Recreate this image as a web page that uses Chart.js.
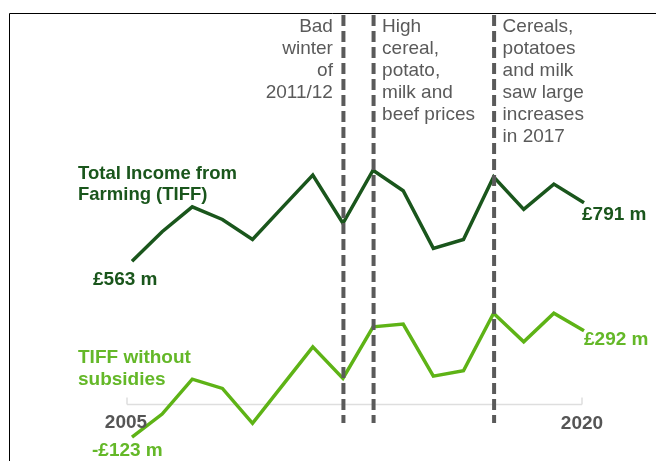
<!DOCTYPE html>
<html>
<head>
<meta charset="utf-8">
<script src="https://cdn.jsdelivr.net/npm/chart.js@4"></script>
<style>
  html, body { margin: 0; padding: 0; background: #fff; }
  #wrap { position: relative; width: 656px; height: 461px; }
</style>
</head>
<body>
<div id="wrap"><canvas id="chart"></canvas></div>
<script>
// years shown on the x axis
const years = ['2005', '2006', '2007', '2008', '2009', '2010', '2011', '2012',
               '2013', '2014', '2015', '2016', '2017', '2018', '2019', '2020'];

// £ million
const tiff = [563, 678, 775, 726, 648, 774, 899, 711, 918, 838, 613, 648, 892, 765, 864, 791];
const tiffNoSubsidies = [-123, -33, 103, 67, -69, 80, 229, 106, 307, 318, 115, 136, 360, 249, 360, 292];

// events marked with dashed lines
const eventYears = ['2012', '2013', '2017'];
const eventNotes = [
    ['Bad', 'winter', 'of', '2011/12'],
    ['High', 'cereal,', 'potato,', 'milk and', 'beef prices'],
    ['Cereals,', 'potatoes', 'and milk', 'saw large', 'increases', 'in 2017']
];

const axisLabels = ['2005', '2020'];

const darkGreen = '#1a561c';
const lightGreen = '#5eb316';
const grey = '#5a5a5a';

const decorations = {
    id: 'decorations',
    beforeDraw(chart) {
        const c = chart.ctx;
        c.save();
        // frame
        c.strokeStyle = '#000';
        c.lineWidth = 1;
        c.beginPath();
        c.moveTo(9.5, 461);
        c.lineTo(9.5, 13.5);
        c.lineTo(656, 13.5);
        c.stroke();

        // zero axis
        const x = chart.scales.x;
        const y = chart.scales.y;
        const x0 = x.getPixelForValue(0) - 5;
        const x1 = x.getPixelForValue(years.length - 1) - 2;
        const yz = Math.round(y.getPixelForValue(0)) - 1.5;
        c.strokeStyle = '#dedede';
        c.lineWidth = 1.5;
        c.beginPath();
        c.moveTo(x0, yz);
        c.lineTo(x1, yz);
        c.moveTo(x0, yz - 7);
        c.lineTo(x0, yz);
        c.moveTo(x1, yz - 7);
        c.lineTo(x1, yz);
        c.stroke();
        c.restore();
    },
    afterDatasetsDraw(chart) {
        const c = chart.ctx;
        const x = chart.scales.x;
        c.save();

        // dashed event lines
        c.strokeStyle = grey;
        c.lineWidth = 4;
        c.setLineDash([11, 5]);
        eventYears.forEach(function (yr) {
            const px = x.getPixelForValue(years.indexOf(yr)) + 0.5;
            c.beginPath();
            c.moveTo(px, 15);
            c.lineTo(px, 423);
            c.stroke();
        });
        c.setLineDash([]);

        // event notes
        c.fillStyle = grey;
        c.font = '19px "Liberation Sans", Arial, sans-serif';
        c.textBaseline = 'alphabetic';
        eventNotes.forEach(function (lines, i) {
            const px = x.getPixelForValue(years.indexOf(eventYears[i]));
            c.textAlign = i === 0 ? 'right' : 'left';
            const tx = i === 0 ? px - 10 : px + 9;
            lines.forEach(function (t, j) {
                c.fillText(t, tx, 32 + j * 22);
            });
        });

        // year labels
        c.font = 'bold 19px "Liberation Sans", Arial, sans-serif';
        c.fillStyle = '#555';
        c.textAlign = 'center';
        c.fillText(axisLabels[0], 126, 428);
        c.fillText(axisLabels[1], 582, 429);

        // series labels
        c.textAlign = 'left';
        c.font = 'bold 18.5px "Liberation Sans", Arial, sans-serif';
        c.fillStyle = darkGreen;
        c.fillText('Total Income from', 78, 179);
        c.fillText('Farming (TIFF)', 78, 200);
        c.fillStyle = '#64b828';
        c.font = 'bold 19px "Liberation Sans", Arial, sans-serif';
        c.fillText('TIFF without', 78, 363);
        c.fillText('subsidies', 78, 385);

        // end values
        const last = tiff.length - 1;
        c.font = 'bold 19px "Liberation Sans", Arial, sans-serif';
        c.fillStyle = darkGreen;
        c.fillText('£' + tiff[0] + ' m', 93, 285);
        c.fillText('£' + tiff[last] + ' m', 582, 220);
        c.fillStyle = '#64b828';
        c.fillText('-£' + Math.abs(tiffNoSubsidies[0]) + ' m', 92, 456);
        c.fillText('£' + tiffNoSubsidies[last] + ' m', 584, 345);
        c.restore();
    }
};

new Chart(document.getElementById('chart'), {
    type: 'line',
    data: {
        labels: years,
        datasets: [
            {
                label: 'Total Income from Farming (TIFF)',
                data: tiff,
                borderColor: darkGreen,
                borderWidth: 3.5,
                pointRadius: 0,
                tension: 0,
                fill: false
            },
            {
                label: 'TIFF without subsidies',
                data: tiffNoSubsidies,
                borderColor: lightGreen,
                borderWidth: 3.5,
                pointRadius: 0,
                tension: 0,
                fill: false
            }
        ]
    },
    options: {
        responsive: true,
        maintainAspectRatio: false,
        animation: false,
        layout: {
            padding: { left: 132, right: 72, top: 13, bottom: 0 }
        },
        scales: {
            x: { display: false, offset: false },
            y: { display: false, min: -216, max: 1531 }
        },
        plugins: {
            legend: { display: false },
            tooltip: { enabled: false }
        }
    },
    plugins: [decorations]
});
</script>
</body>
</html>
